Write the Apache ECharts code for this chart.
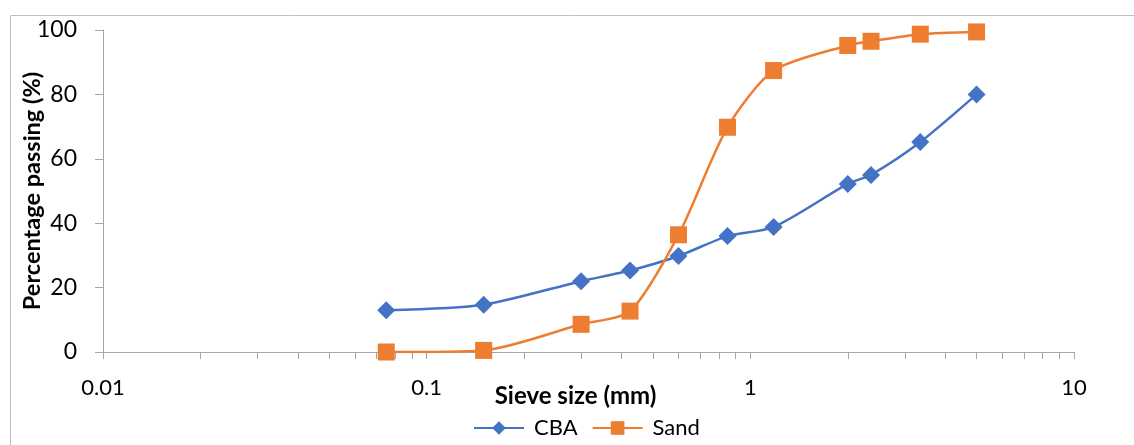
<!DOCTYPE html>
<html>
<head>
<meta charset="utf-8">
<script src="https://cdn.jsdelivr.net/npm/echarts@6/dist/echarts.min.js"></script>
<style>
  html, body { margin: 0; padding: 0; background: #fff; }
  #chart { width: 1134px; height: 445px; }
</style>
</head>
<body>
<div id="chart"></div>
<script>
// sieve sizes (mm) and % passing
const sieveSizes = [0.075, 0.15, 0.3, 0.425, 0.6, 0.85, 1.18, 2, 2.36, 3.35, 5]
const cbaPassing = [13, 14.7, 22, 25.3, 29.8, 36, 38.8, 52.2, 55, 65.2, 80]
const sandPassing = [0, 0.5, 8.6, 12.7, 36.4, 69.8, 87.4, 95.2, 96.5, 98.7, 99.4]
const xMajorTicks = [0.01, 0.1, 1, 10]
const xMinorTicks = []
for (let d = 0.01; d < 10; d *= 10) {
  for (let k = 1; k <= 9; k++) xMinorTicks.push(+(d * k).toPrecision(3))
}
xMinorTicks.push(10)

const font = 'Lato, "Open Sans", sans-serif'
const myChart = echarts.init(document.getElementById('chart'))

const pairs = vals => sieveSizes.map((s, i) => [s, vals[i]])

const option = {
  animation: false,
  graphic: [
    {
      type: 'rect',
      left: 8,
      top: 13,
      shape: { width: 1200, height: 500 },
      style: { fill: 'none', stroke: '#bfbfbf', lineWidth: 1 },
      silent: true
    }
  ],
  grid: { left: 103, right: 60, top: 30, bottom: 93 },
  legend: {
    bottom: 1,
    left: 468,
    itemWidth: 50,
    itemHeight: 17,
    itemGap: 14,
    textStyle: { fontFamily: font, fontSize: 22, color: '#000', padding: [0, 0, 0, 5] },
    data: ['CBA', 'Sand']
  },
  xAxis: {
    type: 'log',
    logBase: 10,
    min: 0.01,
    max: 10,
    name: 'Sieve size (mm)',
    nameLocation: 'middle',
    nameGap: 32,
    nameMoveOverlap: false,
    nameTextStyle: { fontFamily: font, fontSize: 24, fontWeight: 'bold', color: '#000', padding: [0, 26, 0, 0] },
    axisLine: { lineStyle: { color: '#a6a6a6', width: 1 } },
    axisTick: { show: true, length: 7, customValues: xMinorTicks, lineStyle: { color: '#a6a6a6' } },
    axisLabel: { customValues: xMajorTicks, margin: 25, fontFamily: font, fontSize: 22, color: '#000' },
    splitLine: { show: false }
  },
  yAxis: {
    type: 'value',
    min: 0,
    max: 100,
    interval: 20,
    name: 'Percentage passing (%)',
    nameLocation: 'middle',
    nameGap: 59,
    nameMoveOverlap: false,
    nameTextStyle: { fontFamily: font, fontSize: 23.5, fontWeight: 'bold', color: '#000' },
    axisLine: { show: true, lineStyle: { color: '#a6a6a6', width: 1 } },
    axisTick: { show: true, length: 8, lineStyle: { color: '#a6a6a6' } },
    axisLabel: { margin: 26, fontFamily: font, fontSize: 23, color: '#000' },
    splitLine: { show: false }
  },
  series: [
    {
      name: 'CBA',
      type: 'line',
      smooth: 0.25,
      data: pairs(cbaPassing),
      symbol: 'diamond',
      symbolSize: 18,
      itemStyle: { color: '#4472c4' },
      lineStyle: { color: '#4472c4', width: 2.5 }
    },
    {
      name: 'Sand',
      type: 'line',
      smooth: 0.25,
      data: pairs(sandPassing),
      symbol: 'rect',
      symbolSize: 17,
      itemStyle: { color: '#ed7d31' },
      lineStyle: { color: '#ed7d31', width: 2.5 }
    }
  ]
}

myChart.setOption(option)
window.onresize = function () {
  myChart.resize()
}
</script>
</body>
</html>
